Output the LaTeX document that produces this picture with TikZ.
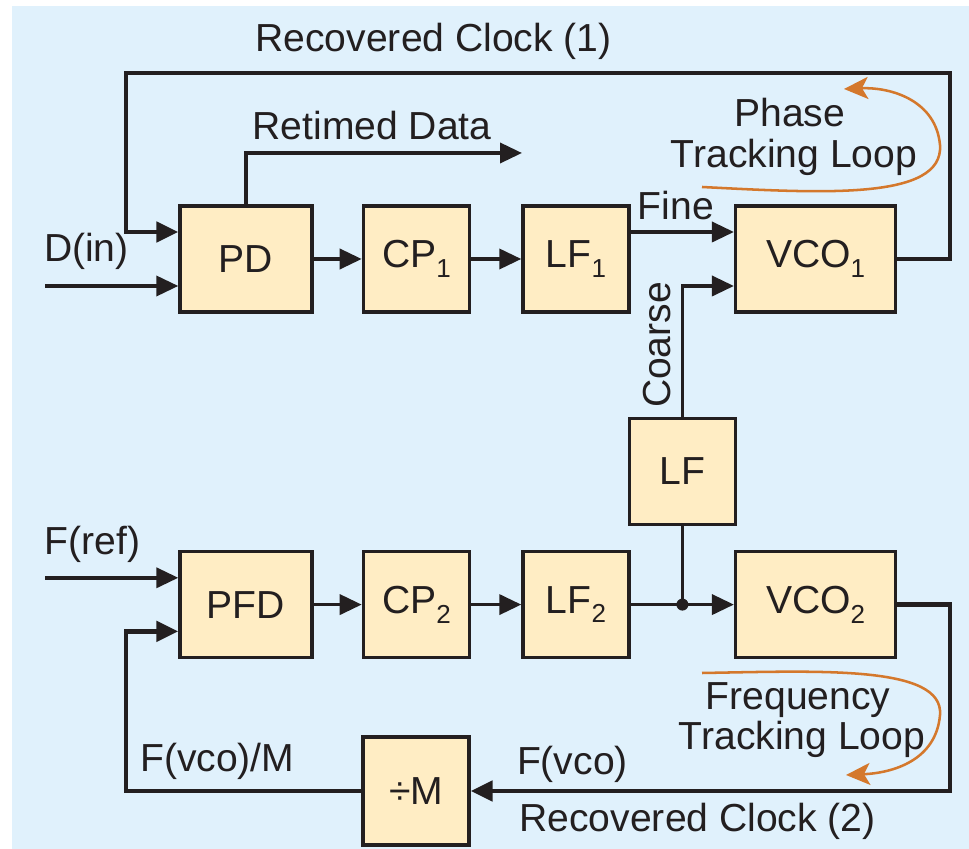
\documentclass[tikz,border=0pt]{standalone}
\usepackage{fontspec}
\setmainfont{Liberation Sans}
\usetikzlibrary{arrows.meta,positioning,calc}
\definecolor{cdrSky}{HTML}{E0F1FC}
\definecolor{cdrTan}{HTML}{FFEDC4}
\definecolor{cdrInk}{HTML}{231F20}
\definecolor{cdrRust}{HTML}{D4782C}
\newcommand{\lowidx}[1]{\raisebox{-7pt}{\fontsize{18.5}{18.5}\selectfont#1}}
\tikzset{
  block/.style={draw=cdrInk,line width=2.4pt,fill=cdrTan,text=cdrInk,
    font=\fontsize{27.8}{33}\selectfont,minimum height=2.65cm,inner sep=0pt},
  wide/.style={block,minimum width=3.3cm},
  narrow/.style={block,minimum width=2.65cm},
  vco/.style={block,minimum width=4.0cm},
  plain/.style={draw=cdrInk,line width=2.6pt},
  wire/.style={plain,-{Triangle[length=5.5mm,width=5mm]}},
  clockloop/.style={wire,line width=3.4pt},
  loopsense/.style={-{Stealth[length=6mm,width=5.5mm,inset=1.5mm]},draw=cdrRust,line width=1.8pt},
  note/.style={font=\fontsize{27.8}{33}\selectfont,text=cdrInk,inner sep=0pt,anchor=base},
}

\begin{document}
\begin{tikzpicture}[x=1cm,y=1cm]
  \useasboundingbox (0,0) rectangle (24.225,21.225);
  \fill[cdrSky] (0.3,0) rectangle (24.225,21.075);
  % phase tracking row
  \node[wide] (pd) at (6.15,14.75) {PD};
  \node[narrow] (cp1) at (10.41,14.75) {CP\lowidx{1}};
  \node[narrow] (lf1) at (14.4,14.75) {LF\lowidx{1}};
  \node[vco] (vco1) at (20.39,14.75) {VCO\lowidx{1}};
  \node[narrow] (lf) at (17.06,9.44) {LF};
  % frequency tracking row
  \node[wide] (pfd) at (6.15,6.11) {PFD};
  \node[narrow] (cp2) at (10.41,6.11) {CP\lowidx{2}};
  \node[narrow] (lf2) at (14.4,6.11) {LF\lowidx{2}};
  \node[vco] (vco2) at (20.39,6.11) {VCO\lowidx{2}};
  \node[narrow,minimum height=2.7cm] (div) at (10.4,1.45) {÷M};
  \foreach \a/\b in {pd/cp1,cp1/lf1,pfd/cp2,cp2/lf2} {
    \draw[wire] (\a.east) -- (\b.west);
  }
  \coordinate (din) at (1.125,14.075);
  \coordinate (fref) at (1.125,6.78);
  \draw[wire] (din) -- (din -| pd.west);
  \draw[wire] (fref) -- (fref -| pfd.west);
  \coordinate (rdata) at (13.05,17.4);
  \draw[wire] (pd.north) |- (rdata);
  \draw[wire] ([yshift=6.75mm]lf1.east) -- ([yshift=6.75mm]vco1.west);
  \draw[wire] (lf.north) |- ([yshift=-6.75mm]vco1.west);
  \coordinate (junc) at (lf.south |- lf2.east);
  \draw[plain] (lf.south) -- (junc);
  \draw[wire] (lf2.east) -- (vco2.west);
  \fill[cdrInk] (junc) circle (0.15);
  % recovered clock loops
  \coordinate (clk1R) at (23.75,19.4);
  \coordinate (clk1L) at (3.15,19.4);
  \draw[clockloop] (vco1.east) -| (clk1R) -- (clk1L) |- ([yshift=6.75mm]pd.west);
  \coordinate (clk2R) at (23.75,1.45);
  \coordinate (clk2L) at (3.15,1.45);
  \draw[clockloop] (vco2.east) -| (clk2R) -- (div.east);
  \draw[clockloop] (div.west) -- (clk2L) |- ([yshift=-6.7mm]pfd.west);
  % labels
  \node[note] (rc1lbl) at (10.84,19.925) {Recovered Clock (1)};
  \node[note] (rdlbl) at (9.3,17.725) {Retimed Data};
  \node[note] (dinlbl) at (2.16,14.675) {D(in)};
  \node[note] (freflbl) at (2.31,7.35) {F(ref)};
  \node[note] (fdivlbl) at (5.43,1.925) {F(vco)/M};
  \node[note] (fvcolbl) at (14.31,1.85) {F(vco)};
  \node[note] (rc2lbl) at (17.44,0.425) {Recovered Clock (2)};
  \node[note] (finelbl) at (16.9,15.725) {Fine};
  \node[note,rotate=90] (coarselbl) at (16.75,12.6) {Coarse};
  \node[note] (ptl1) at (19.74,18.05) {Phase};
  \node[note] (ptl2) at (19.85,17.025) {Tracking Loop};
  \node[note] (ftl1) at (19.95,3.475) {Frequency};
  \node[note] (ftl2) at (20.05,2.475) {Tracking Loop};
  \draw[loopsense] (17.55,16.55) .. controls (20.5,16.4) and (23.6,16.2) .. (23.5,17.6)
    .. controls (23.4,18.7) and (22.3,19.05) .. (21.1,19.0);
  \draw[loopsense] (17.55,4.4) .. controls (20.5,4.45) and (23.6,4.6) .. (23.5,3.35)
    .. controls (23.4,2.2) and (22.3,1.9) .. (21.15,1.85);
\end{tikzpicture}
\end{document}
